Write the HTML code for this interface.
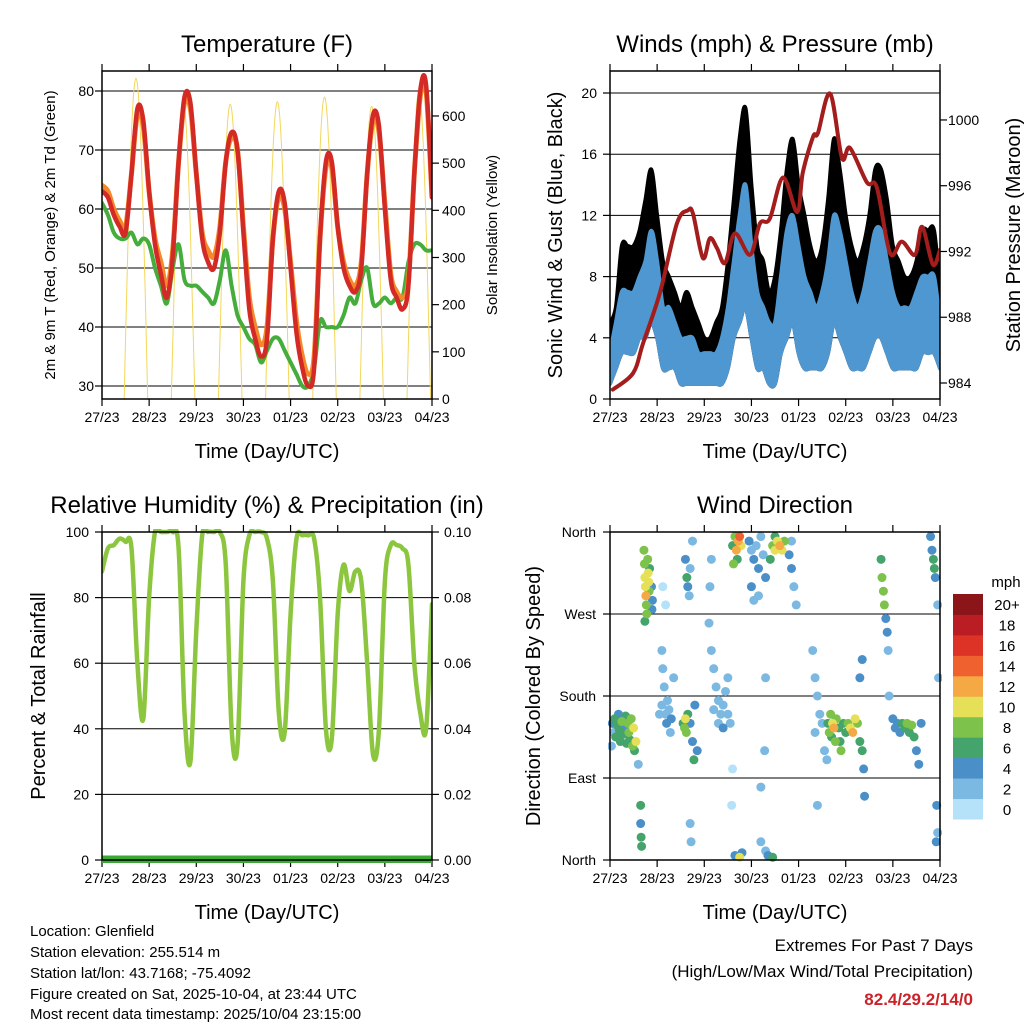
<!DOCTYPE html>
<html><head><meta charset="utf-8"><style>
html,body{margin:0;padding:0;background:#fff}
svg{display:block;font-family:"Liberation Sans",Arial,sans-serif}
</style></head><body>
<svg id="chart" width="1024" height="1024" viewBox="0 0 1024 1024" xmlns="http://www.w3.org/2000/svg">
<rect width="1024" height="1024" fill="#fff"/>
<g id="layer"></g>
<g font-size="15" fill="#000">
<text x="30" y="936">Location: Glenfield</text>
<text x="30" y="957">Station elevation: 255.514 m</text>
<text x="30" y="978">Station lat/lon: 43.7168; -75.4092</text>
<text x="30" y="999">Figure created on Sat, 2025-10-04, at 23:44 UTC</text>
<text x="30" y="1019">Most recent data timestamp: 2025/10/04 23:15:00</text>
</g>
<g text-anchor="end">
<text x="973" y="951" font-size="17">Extremes For Past 7 Days</text>
<text x="973" y="977" font-size="17">(High/Low/Max Wind/Total Precipitation)</text>
<text x="973" y="1005" font-size="17" font-weight="bold" fill="#cc2229">82.4/29.2/14/0</text>
</g>
</svg>
<script>
// ---- data ----
const dayLabels=["27/23","28/23","29/23","30/23","01/23","02/23","03/23","04/23"];
const temp2m=[63,62,59,57,56,66,77,75, 63,54,49,45,52,68,79,78, 66,55,51,50,56,68,73,70, 56,43,38,35,38,55,63,61, 50,39,33,30,33,55,68,68, 57,50,47,46,50,66,76,74, 60,48,45,43,47,66,80,81, 62];
const temp9m=[64,63,60,58,57,66,76,74, 63,55,51,47,53,68,78,77, 66,56,53,52,57,68,72,70, 57,45,40,37,40,55,62,60, 51,41,35,32,35,55,67,67, 57,51,48,47,51,66,75,73, 61,49,46,45,48,66,79,80, 62];
const dewpoint=[61,59,56,55,55,56,54,55, 54,50,47,44,50,54,48,47, 47,46,45,44,48,53,47,42, 40,38,37,34,36,38,38,36, 34,32,30,30,33,41,40,40, 40,42,45,44,48,50,44,44, 45,44,45,45,51,54,54,53, 53];
const solarPeak=[680,630,625,630,640,620,650];
const gustHi=[5,6,10,10,10,11,13,15, 12,9,8,7,6,7,6,5, 4,4,5,6,9,13,17,19, 14,10,9,7,8,11,15,17, 14,12,10,9,10,13,17,15, 12,10,9,10,12,15,15,13, 10,9,8,8,9,11,11,11, 7];
const windHi=[3,5,7,7,7,8,9,11, 9,6,6,5,4,4,4,3, 3,3,3,4,6,9,12,14, 10,7,6,5,5,8,11,12, 10,8,7,6,7,9,12,11, 9,7,6,7,9,11,11,9, 7,6,6,6,7,8,8,8, 5];
const windLo=[1,2,3,3,3,4,4,5, 4,2,2,2,1,1,1,1, 1,1,1,1,2,4,5,6, 4,2,2,1,1,3,4,5, 3,2,2,2,2,3,5,4, 3,2,2,2,3,4,4,3, 2,2,2,2,2,3,3,3, 2];
const presT=[0.06,0.49,0.70,1.06,1.42,1.65,1.76,1.97,2.12,2.27,2.44,2.65,2.97,3.18,3.39,3.67,3.97,4.09,4.31,4.41,4.67,4.92,5.09,5.45,5.66,5.94,6.19,6.47,6.62,6.85,7.0];
const presV=[983.6,984.6,986.4,989.5,993.7,994.5,994.3,991.6,992.8,992.2,991.3,993.1,991.8,993.7,994.0,996.5,994.4,996.8,999.0,999.2,1001.6,997.7,998.3,996.2,995.9,991.9,992.6,991.8,993.5,991.2,992.1];
const rh=[88,95,96,98,97,95,60,43, 80,100,100,100,100,95,45,30, 70,99,100,100,100,90,40,35, 85,99,100,100,98,85,45,39, 75,98,99,99,98,80,40,37, 75,90,82,88,85,60,32,40, 85,96,96,95,90,60,45,40, 78];
const precip=[0,0,0,0,0,0,0,0];
const dirT=[0.05,0.08,0.1,0.12,0.15,0.18,0.2,0.22,0.25,0.28,0.3,0.33,0.35,0.38,0.4,0.42,0.45,0.48,0.5,0.52,0.55,0.03,0.6,
0.72,0.73,0.74,0.75,0.76,0.77,0.78,0.8,0.81,0.82,0.83,0.84,0.88,0.9,0.89,0.74,
1.1,1.12,1.15,1.1,1.18,1.2,1.25,1.3,1.22,1.28,1.05,1.35,1.12,1.18,
1.55,1.58,1.6,1.62,1.65,1.7,1.75,1.78,1.8,1.85,1.6,1.63,1.65,1.7,1.68,1.75,1.7,1.72,
2.1,2.15,2.2,2.25,2.3,2.35,2.4,2.45,2.5,2.2,2.3,2.4,2.5,2.15,2.12,2.55,2.6,2.58,
2.6,2.65,2.68,2.72,2.75,2.78,2.62,2.7,2.65,2.75,2.8,
2.95,3.0,3.05,3.1,3.15,3.2,3.25,3.3,3.0,3.05,3.15,3.3,3.28,3.2,3.3,3.35,3.45,3.2,
3.45,3.5,3.55,3.6,3.65,3.7,3.5,3.4,3.8,3.85,3.9,3.95,3.85,
4.3,4.35,4.4,4.45,4.5,4.35,4.55,4.6,4.4,
4.62,4.65,4.68,4.7,4.72,4.75,4.78,4.8,4.85,4.88,4.9,
4.95,5.0,5.05,5.1,5.15,5.2,5.25,5.3,5.35,5.38,5.4,5.3,5.35,
5.75,5.77,5.8,5.82,5.85,5.88,5.9,5.92,
6.0,6.05,6.1,6.15,6.2,6.25,6.3,6.35,6.4,6.45,6.5,6.55,6.6,
6.8,6.83,6.86,6.88,6.9,6.95,6.97,6.92,6.95,6.93,
0.65,0.65,0.66,0.67];
const dirDeg=[150,140,155,135,148,160,142,130,152,138,145,158,128,150,140,132,155,125,145,120,130,125,105,
340,325,310,300,290,280,270,330,315,305,295,320,300,285,275,262,
230,210,190,170,160,150,165,155,175,140,160,200,300,280,
150,145,155,140,160,150,130,110,170,120,330,310,300,320,290,350,40,20,
260,230,210,190,175,160,170,185,200,165,150,145,160,330,300,150,100,60,
345,355,340,350,355,345,325,330,5,3,8,
350,340,330,345,320,355,335,310,300,285,290,200,120,80,10,5,3,20,
345,340,350,345,340,350,355,330,335,320,300,280,350,
230,200,180,160,150,140,120,110,60,
150,140,160,135,150,145,130,155,145,130,120,
150,140,150,145,140,155,150,130,120,100,70,200,220,
330,310,295,280,265,250,230,180,
155,145,150,140,150,145,150,140,148,135,120,105,150,
355,340,330,320,310,280,200,20,30,60,
40,60,25,15];
const dirSpd=[3,2,5,6,6,4,6,5,7,6,4,5,6,7,8,5,8,8,10,6,10,2,2,
8,8,10,10,12,8,7,8,10,9,8,6,4,4,4,6,
1,1,2,2,2,3,2,4,2,2,1,1,0,0,
6,8,10,7,5,4,4,5,4,4,4,6,4,2,1,1,2,2,
2,2,2,2,2,2,2,2,2,1,1,3,2,2,1,1,0,0,
6,8,12,12,14,10,8,6,3,10,3,
3,2,4,2,3,2,2,3,4,2,2,2,1,1,2,4,6,2,
8,10,10,12,10,8,6,6,4,3,2,2,2,
2,2,2,2,2,1,2,2,1,
6,8,8,6,10,12,8,7,6,6,8,
6,6,8,10,12,10,8,6,5,4,4,3,3,
6,7,8,8,4,4,2,2,
4,4,3,4,6,6,7,6,8,6,4,4,4,
3,4,6,5,4,2,2,4,2,4,
3,6,6,5];
const speedLabels=["0","2","4","6","8","10","12","14","16","18","20+"];
const speedColors=["#b5e2f8","#7cb9e2","#4b8fc8","#44a46c","#7dc24b","#e5e058","#f5a945","#ef6230","#dd3327","#bb1d25","#8c1519"];

// ---- helpers ----
const NS="http://www.w3.org/2000/svg";
const layer=document.getElementById('layer');
function el(tag,attrs,parent){const e=document.createElementNS(NS,tag);for(const k in attrs)e.setAttribute(k,attrs[k]);(parent||layer).appendChild(e);return e;}
function txt(s,attrs,parent){const e=el('text',attrs,parent);e.textContent=s;return e;}
const W=330,PH=328;
function xs(x0){return d=>x0+d*W/7;}
function smoothD(pts,move){
  let d=(move?'M':'L')+pts[0][0].toFixed(1)+','+pts[0][1].toFixed(1);
  for(let i=0;i<pts.length-1;i++){
    const p0=pts[Math.max(0,i-1)],p1=pts[i],p2=pts[i+1],p3=pts[Math.min(pts.length-1,i+2)];
    const c1=[p1[0]+(p2[0]-p0[0])/6,p1[1]+(p2[1]-p0[1])/6];
    const c2=[p2[0]-(p3[0]-p1[0])/6,p2[1]-(p3[1]-p1[1])/6];
    d+=`C${c1[0].toFixed(1)},${c1[1].toFixed(1)} ${c2[0].toFixed(1)},${c2[1].toFixed(1)} ${p2[0].toFixed(1)},${p2[1].toFixed(1)}`;
  }
  return d;
}
function line(pts,parent,stroke,sw){return el('path',{d:smoothD(pts,true),fill:'none',stroke:stroke,'stroke-width':sw,'stroke-linejoin':'round','stroke-linecap':'round'},parent);}
function band(top,bot,parent,fill,sw){return el('path',{d:smoothD(top,true)+smoothD(bot.slice().reverse(),false)+'Z',fill:fill,stroke:fill,'stroke-width':sw,'stroke-linejoin':'round'},parent);}

function panel(name,x0,y0,title,xTitle){
  const g=el('g',{});
  
  
  const t=txt(title,{x:x0+W/2,y:y0-19,'font-size':24,'text-anchor':'middle'},g);
  
  
  const X=xs(x0);
  const xg=el('g',{},g);
  
  
  dayLabels.forEach((lb,i)=>{
    const x=X(i);
    el('line',{x1:x,x2:x,y1:y0+PH,y2:y0+PH+7,stroke:'#000','stroke-width':1.2},xg);
    el('line',{x1:x,x2:x,y1:y0,y2:y0-7,stroke:'#000','stroke-width':1.2},xg);
    const tl=txt(lb,{x:x,y:y0+PH+23,'font-size':14,'text-anchor':'middle'},xg);
    
    
  });
  const xt=txt(xTitle,{x:x0+W/2,y:y0+PH+59,'font-size':20,'text-anchor':'middle'},g);
  
  
  return g;
}
function frame(g,x0,y0){el('rect',{x:x0,y:y0,width:W,height:PH,fill:'none',stroke:'#000','stroke-width':1.5},g);}
function yTicks(g,x0,y0,vals,yf,fmt,side,grid,labelX){
  vals.forEach(v=>{
    const y=yf(v);
    if(grid) el('line',{x1:x0,x2:x0+W,y1:y,y2:y,stroke:'#000','stroke-width':1},g);
    if(side==='L'){el('line',{x1:x0-7,x2:x0,y1:y,y2:y,stroke:'#000','stroke-width':1.2},g);
      const t=txt(fmt(v),{x:labelX,y:y+5,'font-size':14,'text-anchor':'end'},g);
      
      }
    else{el('line',{x1:x0+W,x2:x0+W+7,y1:y,y2:y,stroke:'#000','stroke-width':1.2},g);
      const t=txt(fmt(v),{x:labelX,y:y+5,'font-size':14,'text-anchor':'start'},g);
      
      }
  });
}
function vTitle(g,s,x,y,size,name){const t=txt(s,{x:x,y:y,'font-size':size,'text-anchor':'middle',transform:`rotate(-90 ${x} ${y})`},g);}
const step=i=>i*0.125;

// ---- Temperature panel ----
(function(){
  const x0=102,y0=71;
  const g=panel('temperature-panel',x0,y0,'Temperature (F)','Time (Day/UTC)');
  const X=xs(x0);
  const yT=v=>386-(v-30)*5.9;
  const yS=v=>399-v*0.4717;
  yTicks(g,x0,y0,[30,40,50,60,70,80],yT,v=>v,'L',true,94);
  yTicks(g,x0,y0,[0,100,200,300,400,500,600],yS,v=>v,'R',false,442);
  vTitle(g,'2m & 9m T (Red, Orange) & 2m Td (Green)',55,235,15,'temperature-y-axis-title');
  vTitle(g,'Solar Insolation (Yellow)',497,235,15,'solar-y-axis-title');
  const cp=el('clipPath',{id:'c1'},g);el('rect',{x:x0,y:y0,width:W,height:PH},cp);
  const cg=el('g',{'clip-path':'url(#c1)'},g);
  solarPeak.forEach((pk,k)=>{
    const pts=[];
    for(let j=0;j<=24;j++){const d=k+0.47+j*0.5/24;pts.push([X(d),yS(pk*Math.sin(Math.PI*j/24))]);}
    const s=line(pts,cg,'#f3d75a',1);
    
    
  });
  const dp=line(dewpoint.map((v,i)=>[X(step(i)),yT(v)]),cg,'#44ad3b',4);
  
  
  const o=line(temp9m.map((v,i)=>[X(step(i)),yT(v)]),cg,'#f3892b',5);
  
  
  const r=line(temp2m.map((v,i)=>[X(step(i)),yT(v)]),cg,'#d42a26',4.5);
  
  
  frame(g,x0,y0);
})();

// ---- Winds panel ----
(function(){
  const x0=610,y0=71;
  const g=panel('winds-panel',x0,y0,'Winds (mph) & Pressure (mb)','Time (Day/UTC)');
  const X=xs(x0);
  const yW=v=>399-v*15.3;
  const yP=p=>383-(p-984)*16.44;
  yTicks(g,x0,y0,[0,4,8,12,16,20],yW,v=>v,'L',true,597);
  yTicks(g,x0,y0,[984,988,992,996,1000],yP,v=>v,'R',false,948);
  vTitle(g,'Sonic Wind & Gust (Blue, Black)',562,235,20,'wind-y-axis-title');
  vTitle(g,'Station Pressure (Maroon)',1020,235,20,'pressure-y-axis-title');
  const cp=el('clipPath',{id:'c2'},g);el('rect',{x:x0,y:y0,width:W,height:PH},cp);
  const cg=el('g',{'clip-path':'url(#c2)'},g);
  const lo=windLo.map((v,i)=>[X(step(i)),yW(v)]);
  const ga=band(gustHi.map((v,i)=>[X(step(i)),yW(v)]),lo,cg,'#000',4);
  
  
  const wa=band(windHi.map((v,i)=>[X(step(i)),yW(v)]),lo,cg,'#4f97d0',4);
  
  
  const pl=line(presT.map((t,i)=>[X(t),yP(presV[i])]),cg,'#a31d1d',4);
  
  
  frame(g,x0,y0);
})();

// ---- RH panel ----
(function(){
  const x0=102,y0=532;
  const g=panel('humidity-panel',x0,y0,'Relative Humidity (%) & Precipitation (in)','Time (Day/UTC)');
  const X=xs(x0);
  const yR=v=>860-v*3.28;
  const yPr=v=>860-v*3280;
  yTicks(g,x0,y0,[0,20,40,60,80,100],yR,v=>v,'L',true,89);
  yTicks(g,x0,y0,[0,0.02,0.04,0.06,0.08,0.1],yPr,v=>v.toFixed(2),'R',false,444);
  vTitle(g,'Percent & Total Rainfall',45,696,20,'humidity-y-axis-title');
  const cp=el('clipPath',{id:'c3'},g);el('rect',{x:x0,y:y0-3,width:W,height:PH+6},cp);
  const cg=el('g',{'clip-path':'url(#c3)'},g);
  const r=line(rh.map((v,i)=>[X(step(i)),yR(Math.min(100,v))]),cg,'#8cc63f',4.5);
  
  
  const p=el('polyline',{points:precip.map((v,i)=>X(i)+','+yPr(v)).join(' '),fill:'none',stroke:'#3aaa35','stroke-width':9},cg);
  
  
  frame(g,x0,y0);
})();

// ---- Wind direction panel ----
(function(){
  const x0=610,y0=532;
  const g=panel('wind-direction-panel',x0,y0,'Wind Direction','Time (Day/UTC)');
  const X=xs(x0);
  const yD=d=>860-d*328/360;
  const names={0:'North',90:'East',180:'South',270:'West',360:'North'};
  yTicks(g,x0,y0,[0,90,180,270,360],yD,v=>names[v],'L',true,596);
  vTitle(g,'Direction (Colored By Speed)',540,696,20,'direction-y-axis-title');
  const cp=el('clipPath',{id:'c4'},g);el('rect',{x:x0-2,y:y0-4,width:W+4,height:PH+8},cp);
  const cg=el('g',{'clip-path':'url(#c4)'},g);
  const order=dirT.map((t,i)=>i).sort((a,b)=>dirSpd[a]-dirSpd[b]);
  order.forEach(i=>{
    const ci=Math.min(10,Math.round(dirSpd[i]/2));
    const c=el('circle',{cx:X(dirT[i]),cy:yD(dirDeg[i]),r:4.5,fill:speedColors[ci]},cg);
    
    
  });
  frame(g,x0,y0);
  const cb=el('g',{},g);
  
  
  const h=225/11;
  speedColors.forEach((c,i)=>{
    const y=819-(i+1)*h;
    el('rect',{x:953,y:y,width:30,height:h+0.5,fill:c},cb);
    const t=txt(speedLabels[i],{x:1007,y:y+h/2+6,'font-size':15,'text-anchor':'middle'},cb);
    
    
  });
  const u=txt('mph',{x:1006,y:587,'font-size':15,'text-anchor':'middle'},cb);
  
  
})();
</script>
</body></html>
